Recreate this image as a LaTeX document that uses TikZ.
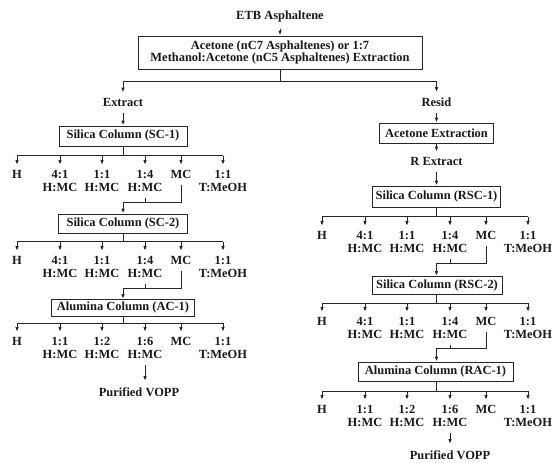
\documentclass[tikz,border=0pt]{standalone}
\usepackage{fontspec}
\setmainfont{Liberation Serif}
\usetikzlibrary{arrows.meta}
\newcommand{\fanrow}[4]{%
  \foreach \i/\x/\t in {#4} {
    \coordinate (#1b\i) at (\x+#2,#3);
    \node[lab] (#1\i) at (\x+#2,#3+9) {\t};
    \draw[arr] (#1b\i) -- (#1\i.north);
  }
  \draw[conn] (#1b1) -- (#1b6);
}
\begin{document}
\begin{tikzpicture}[x=1bp,y=-1bp,
  every node/.style={font=\bfseries\fontsize{12.5}{13}\selectfont, text=black!90},
  box/.style={draw=black!85, line width=0.9bp, inner sep=0pt, align=center},
  lab/.style={align=center, anchor=north, inner xsep=0pt, inner ysep=5.5bp},
  txt/.style={anchor=base, inner xsep=0pt, inner ysep=6bp},
  conn/.style={draw=black!85, line width=1bp},
  arr/.style={draw=black!85, line width=1bp, -{Latex[length=5bp,width=3.6bp]}},
]
\useasboundingbox (0,0) rectangle (553,463);

% top
\node[txt] (etb) at (280,20) {ETB Asphaltene};
\node[box, minimum width=284bp, minimum height=33bp] (main) at (280,52.5)
  {Acetone (nC7 Asphaltenes) or 1:7\\Methanol:Acetone (nC5 Asphaltenes) Extraction};
\draw[arr] (etb.south) -- (main.north);
\coordinate (b0) at (280,82);
\coordinate (bl) at (123,82);
\coordinate (br) at (436.5,82);
\draw[conn] (main.south) -- (b0);
\draw[conn] (bl) -- (br);
\node[txt] (ext) at (123,107) {Extract};
\node[txt] (res) at (436.5,107) {Resid};
\draw[arr] (bl) -- (ext.north);
\draw[arr] (br) -- (res.north);

% left column
\node[box, minimum width=128bp, minimum height=20bp] (sc1) at (123,136) {Silica Column (SC-1)};
\draw[arr] (ext.south) -- (sc1.north);
\fanrow{A}{0}{156}{1/17/H, 2/60/{4:1\\H:MC}, 3/102/{1:1\\H:MC}, 4/145/{1:4\\H:MC}, 5/181/MC, 6/223/{1:1\\T:MeOH}}
\draw[conn] (sc1.south) -- (sc1.south |- Ab1);
\coordinate (j1) at (123,203);
\draw[conn] (A4.south) -- (A4.south |- j1);
\draw[conn] (A5.south) -- (A5.south |- j1) -- (j1);
\node[box, minimum width=129bp, minimum height=19bp] (sc2) at (123,223.5) {Silica Column (SC-2)};
\draw[arr] (j1) -- (sc2.north);
\fanrow{B}{0}{242}{1/17/H, 2/60/{4:1\\H:MC}, 3/102/{1:1\\H:MC}, 4/145/{1:4\\H:MC}, 5/181/MC, 6/223/{1:1\\T:MeOH}}
\draw[conn] (sc2.south) -- (sc2.south |- Bb1);
\coordinate (j2) at (123,288);
\draw[conn] (B4.south) -- (B4.south |- j2);
\draw[conn] (B5.south) -- (B5.south |- j2) -- (j2);
\node[box, minimum width=143bp, minimum height=17bp] (ac1) at (123,308) {Alumina Column (AC-1)};
\draw[arr] (j2) -- (ac1.north);
\fanrow{C}{0}{323}{1/17/H, 2/60/{1:1\\H:MC}, 3/102/{1:2\\H:MC}, 4/145/{1:6\\H:MC}, 5/181/MC, 6/223/{1:1\\T:MeOH}}
\draw[conn] (ac1.south) -- (ac1.south |- Cb1);
\node[txt] (pvl) at (139,396) {Purified VOPP};
\draw[arr] (C4.south) -- (C4.south |- pvl.north);

% right column
\node[box, minimum width=114bp, minimum height=20bp] (ace) at (436.5,133) {Acetone Extraction};
\draw[arr] (res.south) -- (ace.north);
\node[txt] (rext) at (436.5,166) {R Extract};
\draw[arr] (ace.south) -- (rext.north);
\node[box, minimum width=128bp, minimum height=21bp] (rsc1) at (436.5,196.5) {Silica Column (RSC-1)};
\draw[arr] (rext.south) -- (rsc1.north);
\fanrow{D}{305}{217}{1/17/H, 2/60/{4:1\\H:MC}, 3/102/{1:1\\H:MC}, 4/145/{1:4\\H:MC}, 5/181/MC, 6/223/{1:1\\T:MeOH}}
\draw[conn] (rsc1.south) -- (rsc1.south |- Db1);
\coordinate (j3) at (436.5,263);
\draw[conn] (D4.south) -- (D4.south |- j3);
\draw[conn] (D5.south) -- (D5.south |- j3) -- (j3);
\node[box, minimum width=130bp, minimum height=18bp] (rsc2) at (437,285.5) {Silica Column (RSC-2)};
\draw[arr] (j3) -- (j3 |- rsc2.north);
\fanrow{E}{305}{303}{1/17/H, 2/60/{4:1\\H:MC}, 3/102/{1:1\\H:MC}, 4/145/{1:4\\H:MC}, 5/181/MC, 6/223/{1:1\\T:MeOH}}
\draw[conn] (j3 |- rsc2.south) -- (j3 |- Eb1);
\coordinate (j4) at (436.5,348);
\draw[conn] (E4.south) -- (E4.south |- j4);
\draw[conn] (E5.south) -- (E5.south |- j4) -- (j4);
\node[box, minimum width=155bp, minimum height=19bp] (rac1) at (435.5,371.5) {Alumina Column (RAC-1)};
\draw[arr] (j4) -- (j4 |- rac1.north);
\fanrow{F}{305}{391}{1/17/H, 2/60/{1:1\\H:MC}, 3/102/{1:2\\H:MC}, 4/145/{1:6\\H:MC}, 5/181/MC, 6/223/{1:1\\T:MeOH}}
\draw[conn] (j4 |- rac1.south) -- (j4 |- Fb1);
\node[txt] (pvr) at (450,459) {Purified VOPP};
\draw[arr] (F4.south) -- (F4.south |- pvr.north);
\end{tikzpicture}
\end{document}
